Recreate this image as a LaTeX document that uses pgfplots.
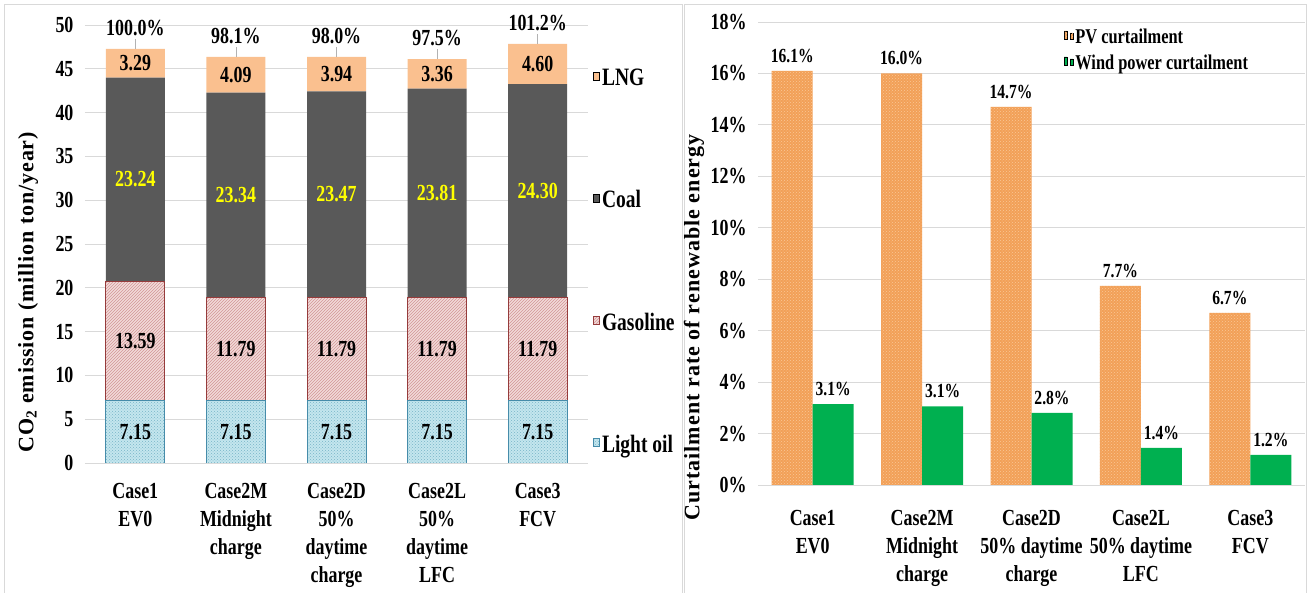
\documentclass[border=0pt]{standalone}
\usepackage{fontspec}
\setmainfont{Liberation Serif}[FakeStretch=0.78]
\newfontfamily\labfontA{Liberation Serif}[LetterSpace=4]
\newfontfamily\labfontB{Liberation Serif}[LetterSpace=4.8]
\usepackage{pgfplots}
\pgfplotsset{compat=1.18}
\usetikzlibrary{patterns}

\definecolor{lngc}{RGB}{250,192,143}
\definecolor{coalc}{RGB}{89,89,89}
\definecolor{gasf}{RGB}{242,218,217}
\definecolor{gasd}{RGB}{150,60,60}
\definecolor{gash}{RGB}{210,150,150}
\definecolor{oilf}{RGB}{196,230,238}
\definecolor{oild}{RGB}{70,140,170}
\definecolor{oilh}{RGB}{120,180,200}
\definecolor{pvc}{RGB}{242,160,88}
\definecolor{pvh}{RGB}{250,200,150}
\definecolor{windc}{RGB}{0,176,80}
\definecolor{gridc}{RGB}{217,217,217}
\definecolor{yelc}{RGB}{255,255,0}

\newcommand{\ftick}{\fontsize{23}{27}\selectfont\bfseries}
\newcommand{\fcat}{\fontsize{23}{28}\selectfont\bfseries}
\newcommand{\fval}{\fontsize{23}{27}\selectfont\bfseries}
\newcommand{\fvalr}{\fontsize{20}{24}\selectfont\bfseries}
\newcommand{\flegl}{\fontsize{25}{29}\selectfont\bfseries}
\newcommand{\flegr}{\fontsize{21}{25}\selectfont\bfseries}

\pgfkeys{/pgf/number format/assume math mode=true}

\pgfplotsset{
  panel/.style={
    scale only axis, anchor=south west,
    xmin=-0.5, xmax=4.5, xtick={0,...,4},
    axis line style={draw=none}, tick style={draw=none},
    ymajorgrids, grid style={gridc, line width=0.8pt},
    tick label style={font=\ftick},
    xticklabel style={font=\fcat, align=center, yshift=-17pt},
    yticklabel style={xshift=-8pt},
    legend cell align=left,
    legend image code/.code={\draw[##1] (0pt,-5pt) rectangle (10pt,5pt);},
  },
  % value label inside a stacked segment
  mid label/.style={
    nodes near coords={\pgfmathprintnumber[fixed,zerofill,precision=2]{\pgfplotspointmeta}},
    every node near coord/.style={anchor=center, font=\fval, text=#1},
  },
}

\begin{document}
\begin{tikzpicture}
\draw[gridc, line width=1pt] (4pt,-5pt) rectangle (682pt,588pt);
\draw[gridc, line width=1pt] (684pt,-5pt) rectangle (1306pt,588pt);

% left: CO2 emission, stacked
\begin{axis}[panel,
  at={(85pt,130pt)}, width=503pt, height=438pt,
  ybar stacked, bar width=59pt,
  ymin=0, ymax=50, ytick={0,5,...,50},
  xticklabels={{Case1\\EV0},{Case2M\\Midnight\\charge},{Case2D\\50\%\\daytime\\charge},{Case2L\\50\%\\daytime\\LFC},{Case3\\FCV}},
  ylabel={\labfontA\bfseries\fontsize{22}{26}\selectfont CO\textsubscript{2} emission (million ton/year)},
  ylabel style={at={(axis description cs:-0.113,0.39)}, anchor=center},
  reverse legend,
  legend style={draw=none, fill=none, inner sep=0pt, at={(1.01,0.905)}, anchor=north west,
    row sep=99.5pt, font=\flegl},
]
\addplot[fill=oilf, draw=oild, line width=0.8pt, postaction={pattern=crosshatch dots, pattern color=oilh}, mid label=black]
  coordinates {(0,7.15) (1,7.15) (2,7.15) (3,7.15) (4,7.15)};
\addplot[fill=gasf, draw=gasd, line width=0.8pt, postaction={pattern=north east lines, pattern color=gash}, mid label=black]
  coordinates {(0,13.59) (1,11.79) (2,11.79) (3,11.79) (4,11.79)};
\addplot[fill=coalc, draw=none, mid label=yelc]
  coordinates {(0,23.24) (1,23.34) (2,23.47) (3,23.81) (4,24.30)};
\addplot[fill=lngc, draw=none, mid label=black]
  coordinates {(0,3.29) (1,4.09) (2,3.94) (3,3.36) (4,4.60)};
\legend{Light oil, Gasoline, Coal, LNG}
\end{axis}

% left: ratio to Case1 above each stack (stack totals)
\begin{axis}[
  at={(85pt,130pt)}, anchor=south west, scale only axis, width=503pt, height=438pt,
  xmin=-0.5, xmax=4.5, ymin=0, ymax=50, hide axis,
  ybar, bar width=59pt,
]
\addplot[draw=none, fill=none, point meta=explicit symbolic,
  nodes near coords={\pgfplotspointmeta},
  every node near coord/.style={anchor=south, inner sep=0pt, yshift=13pt, font=\fval, text=black,
    append after command={([yshift=-3pt]\tikzlastnode.south) edge[draw=gray!60, line width=0.6pt] ++(0pt,-10pt)}}]
  coordinates {(0,47.27) [100.0\%] (1,46.37) [98.1\%] (2,46.35) [98.0\%] (3,46.11) [97.5\%] (4,47.84) [101.2\%]};
\end{axis}

% right: curtailment rate
\begin{axis}[panel,
  at={(758pt,108pt)}, width=547pt, height=463pt,
  ybar=0pt, bar width=41pt,
  ymin=0, ymax=18, ytick={0,2,...,18},
  yticklabel={\pgfmathprintnumber{\tick}\%},
  xticklabels={{Case1\\EV0},{Case2M\\Midnight\\charge},{Case2D\\50\% daytime\\charge},{Case2L\\50\% daytime\\LFC},{Case3\\FCV}},
  ylabel={\labfontB\bfseries\fontsize{22}{26}\selectfont Curtailment rate of renewable energy},
  ylabel style={at={(axis description cs:-0.117,0.34)}, anchor=center},
  nodes near coords={\pgfmathprintnumber[fixed,zerofill,precision=1]{\pgfplotspointmeta}\%},
  every node near coord/.append style={font=\fvalr, text=black, yshift=5pt},
  legend style={draw=none, fill=none, inner sep=0pt, at={(0.559,0.99)}, anchor=north west,
    row sep=6pt, font=\flegr},
]
\addplot[fill=pvc, draw=none, postaction={pattern=crosshatch dots, pattern color=pvh}]
  coordinates {(0,16.1) (1,16.0) (2,14.7) (3,7.74) (4,6.69)};
\addplot[fill=windc, draw=none]
  coordinates {(0,3.14) (1,3.06) (2,2.80) (3,1.44) (4,1.17)};
\legend{PV curtailment, Wind power curtailment}
\end{axis}

\pgfresetboundingbox
\path (0pt,0pt) rectangle (1308pt,593pt);
\end{tikzpicture}
\end{document}
